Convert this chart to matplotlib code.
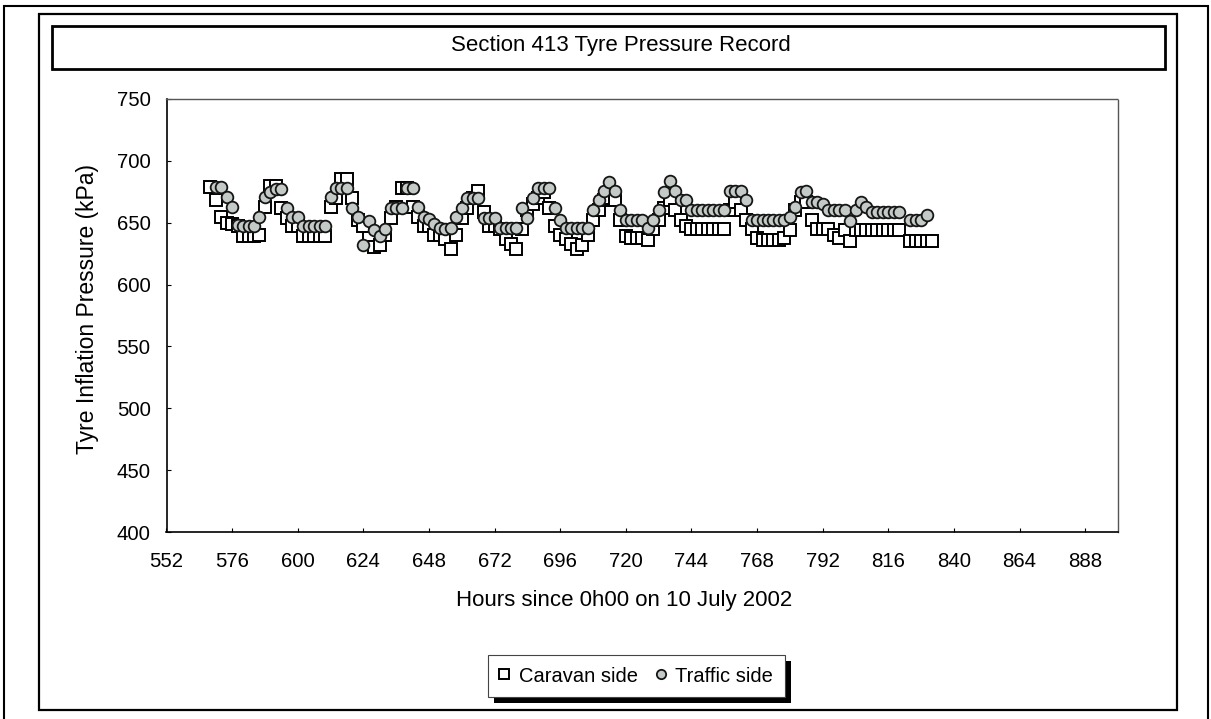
import matplotlib
matplotlib.use("Agg")
import matplotlib.pyplot as plt
from matplotlib.patches import Rectangle


# Caravan side (squares), hours since 0h00 on 10 July 2002 and pressure in kPa
caravan_hours = [568, 570, 572, 574, 576, 578, 580, 582, 584, 586, 588, 590, 592, 594, 596, 598,
                 600, 602, 604, 606, 608, 610, 612, 614, 616, 618, 620, 622, 624, 626, 628, 630,
                 632, 634, 636, 638, 640, 642, 644, 646, 648, 650, 652, 654, 656, 658, 660, 662,
                 664, 666, 668, 670, 672, 674, 676, 678, 680, 682, 684, 686, 688, 690, 692, 694,
                 696, 698, 700, 702, 704, 706, 708, 710, 712, 714, 716, 718, 720, 722, 724, 726,
                 728, 730, 732, 734, 736, 738, 740, 742, 744, 746, 748, 750, 752, 754, 756, 758,
                 760, 762, 764, 766, 768, 770, 772, 774, 776, 778, 780, 782, 784, 786, 788, 790,
                 792, 794, 796, 798, 800, 802, 804, 806, 808, 810, 812, 814, 816, 818, 820,
                 824, 826, 828, 830, 832]
caravan_kpa = [679, 668, 655, 650, 649, 647, 639, 639, 639, 640, 663, 680, 680, 662, 654, 647,
               647, 639, 639, 639, 639, 639, 663, 670, 685, 685, 670, 652, 647, 638, 630, 632,
               640, 654, 663, 678, 678, 663, 655, 647, 647, 640, 640, 637, 629, 640, 654, 662,
               670, 676, 659, 647, 647, 645, 637, 633, 629, 645, 660, 665, 670, 675, 662, 647,
               640, 637, 633, 629, 632, 640, 652, 660, 668, 670, 668, 652, 639, 638, 638, 638,
               636, 645, 652, 662, 668, 660, 652, 647, 645, 645, 645, 645, 645, 645, 645, 660,
               667, 660, 652, 645, 638, 636, 636, 636, 636, 638, 644, 660, 667, 667, 652, 645,
               645, 645, 640, 638, 644, 635, 644, 644, 644, 644, 644, 644, 644, 644, 644,
               635, 635, 635, 635, 635]

# Traffic side (circles)
traffic_hours = [570, 572, 574, 576, 578, 580, 582, 584, 586, 588, 590, 592, 594, 596, 598,
                 600, 602, 604, 606, 608, 610, 612, 614, 616, 618, 620, 622, 624, 626, 628, 630,
                 632, 634, 636, 638, 640, 642, 644, 646, 648, 650, 652, 654, 656, 658, 660, 662,
                 664, 666, 668, 670, 672, 674, 676, 678, 680, 682, 684, 686, 688, 690, 692, 694,
                 696, 698, 700, 702, 704, 706, 708, 710, 712, 714, 716, 718, 720, 722, 724, 726,
                 728, 730, 732, 734, 736, 738, 740, 742, 744, 746, 748, 750, 752, 754, 756, 758,
                 760, 762, 764, 766, 768, 770, 772, 774, 776, 778, 780, 782, 784, 786, 788, 790,
                 792, 794, 796, 798, 800, 802, 804, 806, 808, 810, 812, 814, 816, 818, 820,
                 824, 826, 828, 830]
traffic_kpa = [679, 679, 671, 663, 648, 647, 647, 647, 655, 671, 675, 677, 677, 662, 655,
               655, 647, 647, 647, 647, 647, 671, 678, 678, 678, 662, 655, 632, 651, 644, 639,
               645, 662, 662, 662, 678, 678, 663, 655, 653, 649, 646, 645, 646, 655, 662, 670,
               670, 670, 654, 654, 654, 646, 646, 646, 646, 662, 654, 670, 678, 678, 678, 662,
               652, 646, 646, 646, 646, 646, 660, 668, 676, 683, 676, 660, 652, 652, 652, 652,
               646, 652, 660, 675, 684, 676, 668, 668, 660, 660, 660, 660, 660, 660, 660, 676,
               676, 676, 668, 652, 652, 652, 652, 652, 652, 652, 655, 663, 675, 676, 667, 667,
               665, 660, 660, 660, 660, 651, 660, 667, 663, 659, 659, 659, 659, 659, 659,
               652, 652, 652, 656]

x_ticks = [552, 576, 600, 624, 648, 672, 696, 720, 744, 768, 792, 816, 840, 864, 888]
y_ticks = [400, 450, 500, 550, 600, 650, 700, 750]

W, H = 1211, 719


def box(fig, x0, y0, x1, y1, **kw):
    # rectangle given in pixel coords from the top-left corner
    r = Rectangle((x0 / W, 1 - y1 / H), (x1 - x0) / W, (y1 - y0) / H,
                  transform=fig.transFigure, **kw)
    fig.add_artist(r)
    return r


def main():
    plt.rcParams['font.family'] = ['Liberation Sans', 'DejaVu Sans']
    fig = plt.figure(figsize=(W / 100, H / 100), dpi=100)
    ax = fig.add_axes([166.5 / W, 1 - 532 / H, (1118 - 166.5) / W, (532 - 99) / H])

    ax.plot(caravan_hours, caravan_kpa, linestyle='', marker='s', markersize=8.7,
            markerfacecolor='white', markeredgecolor='black', markeredgewidth=1.4,
            label='Caravan side')
    ax.plot(traffic_hours, traffic_kpa, linestyle='', marker='o', markersize=8.4,
            markerfacecolor='#c4cbc7', markeredgecolor='#151515', markeredgewidth=1.3,
            label='Traffic side')

    ax.set_xlim(552, 900)
    ax.set_ylim(400, 750)
    ax.set_xticks(x_ticks)
    ax.set_yticks(y_ticks)
    ax.tick_params(direction='in', length=3, width=0.8, labelsize=14.7)
    ax.tick_params(axis='x', pad=14.5)
    ax.tick_params(axis='y', pad=11.5)
    for s in ['left', 'bottom']:
        ax.spines[s].set_linewidth(1.2)
    for s in ['top', 'right']:
        ax.spines[s].set_color('#555555')
        ax.spines[s].set_linestyle((0, (1, 1)))
        ax.spines[s].set_linewidth(1.0)

    ax.set_xlabel("Hours since 0h00 on 10 July 2002", fontsize=16)
    ax.xaxis.set_label_coords(0.481, (532 - 590) / 433)
    ax.set_ylabel("Tyre Inflation Pressure (kPa)", fontsize=16.5)
    ax.yaxis.set_label_coords((99 - 166.5) / 951.5, 0.515)

    # frames of the scanned page, chart area and title box
    box(fig, 4, 6, 1208, 740, fill=False, edgecolor='black', linewidth=1.5)
    box(fig, 39, 14, 1177, 710, fill=False, edgecolor='black', linewidth=1.6)
    box(fig, 52, 26, 1165, 69, fill=False, edgecolor='black', linewidth=2.0)
    fig.text(621 / W, 1 - 46 / H, "Section 413 Tyre Pressure Record",
             ha='center', va='center', fontsize=16)

    # legend with a solid drop shadow
    box(fig, 494, 661, 791, 703, facecolor='black', edgecolor='none')
    box(fig, 488, 655, 785, 697, facecolor='white', edgecolor='#444444', linewidth=0.8)
    handles, labels = ax.get_legend_handles_labels()
    leg = fig.legend(handles, labels, loc='center', bbox_to_anchor=(634.5 / W, 1 - 676 / H),
                     ncol=2, frameon=False, fontsize=14.5, handlelength=0.8,
                     handletextpad=0.3, columnspacing=0.75, markerscale=0.8)
    leg.set_zorder(5)

    fig.savefig("out.png", dpi=100)


if __name__ == "__main__":
    main()
